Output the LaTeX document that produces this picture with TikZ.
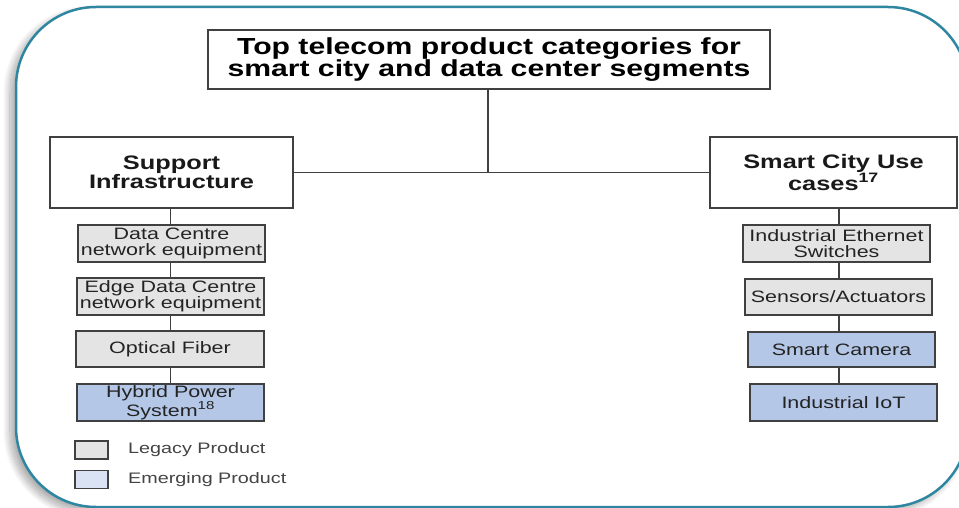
\documentclass[tikz,border=0pt]{standalone}
\usepackage{fontspec}
\setmainfont{Liberation Sans}[FakeStretch=1.3]
\usetikzlibrary{shadows.blur}
\definecolor{frameteal}{RGB}{46,134,160}
\definecolor{boxline}{RGB}{64,64,64}
\definecolor{legacyfill}{RGB}{228,228,228}
\definecolor{emergefill}{RGB}{180,199,231}
\definecolor{emergelight}{RGB}{218,227,243}
\definecolor{txtgray}{RGB}{35,35,35}
\tikzset{
  titlebox/.style={draw=boxline, line width=1.2pt, fill=white, align=center, inner sep=0pt,
    font=\fontsize{23.2}{18.5}\selectfont\bfseries, text=black},
  headbox/.style={draw=boxline, line width=1.2pt, fill=white, align=center, inner sep=0pt,
    minimum height=71pt, font=\fontsize{19.5}{18.5}\selectfont\bfseries, text=black!90},
  legacybox/.style={draw=boxline, line width=1.4pt, fill=legacyfill, align=center, inner sep=0pt,
    minimum width=187pt, font=\fontsize{16.5}{15.7}\selectfont, text=txtgray},
  emergebox/.style={legacybox, fill=emergefill},
  legsq/.style={draw=boxline, line width=1.4pt, minimum width=33pt, minimum height=18pt, inner sep=0pt},
  legtext/.style={anchor=west, inner sep=0pt, font=\fontsize{15.2}{17}\selectfont, text=txtgray!85},
  conn/.style={draw=boxline, line width=1.2pt},
}
\begin{document}
\begin{tikzpicture}[x=1pt,y=-1pt]
\useasboundingbox (0,0) rectangle (959,508);
\clip (0,0) rectangle (959,508);
% outer frame
\draw[frameteal, line width=2.5pt, fill=white, rounded corners=80pt,
  blur shadow={shadow xshift=-6pt, shadow yshift=-5pt, shadow blur steps=20,
    shadow blur radius=7pt, shadow opacity=35}]
  (16,7) rectangle (968,507);
% title and headers
\node[titlebox, minimum width=562pt, minimum height=59pt] (title) at (489,59.5)
  {Top telecom product categories for\\smart city and data center segments};
\node[headbox, minimum width=243pt] (sup) at (171.5,172.5) {Support\\Infrastructure};
\node[headbox, minimum width=247pt] (smart) at (833.5,172.5) {Smart City Use\\cases\textsuperscript{17}};
% left column
\node[legacybox, minimum height=37pt] (dc) at (171.5,243.5) {Data Centre\\network equipment};
\node[legacybox, minimum height=37pt] (edge) at (170.5,296.5) {Edge Data Centre\\network equipment};
\node[legacybox, minimum width=188pt, minimum height=36pt] (fiber) at (170,349) {Optical Fiber};
\node[emergebox, minimum height=37pt] (hybrid) at (170.5,402.5) {Hybrid Power\\System\textsuperscript{18}};
% right column
\node[legacybox, minimum height=37pt] (ie) at (836.5,243.5) {Industrial Ethernet\\Switches};
\node[legacybox, minimum height=36pt] (sens) at (838.5,297) {Sensors/Actuators};
\node[emergebox, minimum height=35pt] (cam) at (841.5,349.5) {Smart Camera};
\node[emergebox, minimum height=37pt] (iot) at (843.5,402.5) {Industrial IoT};
% legend
\node[legsq, fill=legacyfill] (lg1) at (91.5,450) {};
\node[legsq, fill=emergelight] (lg2) at (91.5,479.5) {};
\node[legtext] (lt1) at (128,450) {Legacy Product};
\node[legtext] (lt2) at (128,480) {Emerging Product};
% connectors
\coordinate (tx) at (488,0);
\coordinate (lx) at (170.5,0);
\coordinate (rx) at (839,0);
\draw[conn] (title.south -| tx) -- (sup.east -| tx);
\draw[conn] (sup.east) -- (smart.west);
\draw[conn] (sup.south -| lx) -- (dc.north -| lx);
\draw[conn] (dc.south -| lx) -- (edge.north -| lx);
\draw[conn] (edge.south -| lx) -- (fiber.north -| lx);
\draw[conn] (fiber.south -| lx) -- (hybrid.north -| lx);
\draw[conn] (smart.south -| rx) -- (ie.north -| rx);
\draw[conn] (ie.south -| rx) -- (sens.north -| rx);
\draw[conn] (sens.south -| rx) -- (cam.north -| rx);
\draw[conn] (cam.south -| rx) -- (iot.north -| rx);
\end{tikzpicture}
\end{document}
